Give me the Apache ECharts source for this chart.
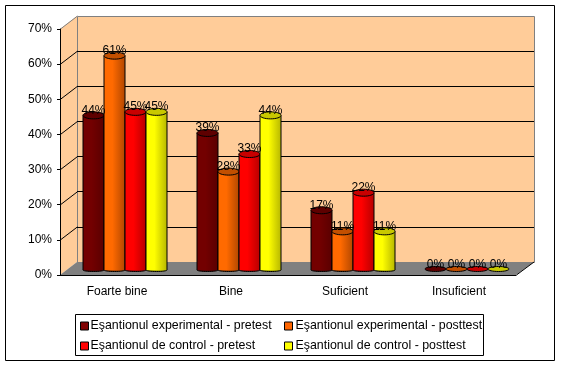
<!DOCTYPE html>
<html>
<head>
<meta charset="utf-8">
<style>html,body{margin:0;padding:0;background:#fff}#c{width:561px;height:366px}</style>
<script src="https://cdn.jsdelivr.net/npm/echarts@6/dist/echarts.min.js"></script>
</head>
<body>
<div id="c"></div>
<script>
const categories = ['Foarte bine', 'Bine', 'Suficient', 'Insuficient'];
const seriesNames = [
  'Eşantionul experimental - pretest',
  'Eşantionul experimental - posttest',
  'Eşantionul de control - pretest',
  'Eşantionul de control - posttest'
];
const expPre = [44, 39, 17, 0];
const expPost = [61, 28, 11, 0];
const ctrlPre = [45, 33, 22, 0];
const ctrlPost = [45, 44, 11, 0];
const yTicks = [0, 10, 20, 30, 40, 50, 60, 70];
const seriesValues = [expPre, expPost, ctrlPre, ctrlPost];
const baseColors = ['#800000', '#FF6600', '#FF0000', '#FFFF00'];
const brightColors = ['#730000', '#FF6A00', '#FF0000', '#FFFF00'];
const darkColors = ['#5A0000', '#B34700', '#B80000', '#B8B800'];
const capColors = ['#5E0000', '#C24F00', '#C80000', '#C8C800'];

const W = 456, H = 246, DX = 17, DY = 13;
const L = 60, B = 275, T = B - H;
const BAR_W = 21, RY = 3.5;

function frontGrid() { return { left: L, top: T, width: W, height: H }; }

function barItem(si) {
  return function (params, api) {
    const v = api.value(1);
    const p = api.coord([api.value(0), v]);
    const base = api.coord([api.value(0), 0]);
    const cx = p[0] + (si - 1.5) * BAR_W;
    const x0 = cx - BAR_W / 2, x1 = cx + BAR_W / 2;
    const line = { stroke: '#000', lineWidth: 1 };
    const grad = {
      type: 'linear', x: 0, y: 0, x2: 1, y2: 0,
      colorStops: [
        { offset: 0, color: brightColors[si] },
        { offset: 0.4, color: brightColors[si] },
        { offset: 1, color: darkColors[si] }
      ]
    };
    const children = [];
    if (v > 0) {
      children.push(
        { type: 'ellipse', shape: { cx: cx, cy: base[1], rx: BAR_W / 2, ry: 1.5 }, style: Object.assign({ fill: darkColors[si] }, line) },
        { type: 'rect', shape: { x: x0, y: p[1], width: BAR_W, height: base[1] - p[1] }, style: { fill: grad } },
        { type: 'line', shape: { x1: x0, y1: p[1], x2: x0, y2: base[1] }, style: line },
        { type: 'line', shape: { x1: x1, y1: p[1], x2: x1, y2: base[1] }, style: line }
      );
    }
    children.push(
      { type: 'ellipse', shape: { cx: cx, cy: p[1] - (v > 0 ? 0 : 1), rx: BAR_W / 2, ry: v > 0 ? RY : 2.5 }, style: Object.assign({ fill: capColors[si] }, line) },
      { type: 'text', z2: 100, style: { text: Math.round(v) + '%', x: cx, y: p[1] - 5, align: 'center', verticalAlign: 'middle', fill: '#000', font: '12px "Liberation Sans", Arial, sans-serif' } }
    );
    return { type: 'group', children: children };
  };
}

const font = { color: '#000', fontFamily: '"Liberation Sans", Arial, sans-serif', fontSize: 12 };
const legendFont = { color: '#000', fontFamily: '"Liberation Sans", Arial, sans-serif', fontSize: 12.4 };
const frameColor = '#808080';

const option = {
  animation: false,
  backgroundColor: '#fff',
  graphic: { elements: [
    { type: 'rect', z: -5, shape: { x: 5.5, y: 5.5, width: 549, height: 355 }, style: { fill: '#fff', stroke: '#000', lineWidth: 1 } },
    { type: 'polygon', z: -4, shape: { points: [[L, T], [L + DX, T - DY], [L + DX, B - DY], [L, B]] }, style: { fill: '#FFCC99' } },
    { type: 'rect', z: -4, shape: { x: L + DX + 0.5, y: T - DY + 0.5, width: W + 1, height: H }, style: { fill: '#FFCC99', stroke: frameColor, lineWidth: 1 } },
    { type: 'polygon', z: -3, shape: { points: [[L, B], [L + DX, B - DY], [L + DX + W + 1, B - DY], [L + W, B]] }, style: { fill: '#808080' } },
    { type: 'line', z: -2, shape: { x1: L + 0.5, y1: T, x2: L + DX + 0.5, y2: T - DY }, style: { stroke: frameColor, lineWidth: 1 } },
    { type: 'rect', z: -1, shape: { x: 75.5, y: 314.5, width: 408, height: 41 }, style: { fill: '#fff', stroke: '#000', lineWidth: 1 } }
  ] },
  legend: [
    { left: 80, top: 320, orient: 'vertical', padding: 0, itemGap: 8, itemWidth: 8, itemHeight: 8, icon: 'rect', data: [seriesNames[0], seriesNames[2]], textStyle: Object.assign({ padding: [0, 0, 0, -3] }, legendFont), itemStyle: { borderColor: '#000', borderWidth: 1 }, selectedMode: false },
    { left: 284, top: 320, orient: 'vertical', padding: 0, itemGap: 8, itemWidth: 8, itemHeight: 8, icon: 'rect', data: [seriesNames[1], seriesNames[3]], textStyle: Object.assign({ padding: [0, 0, 0, -2] }, legendFont), itemStyle: { borderColor: '#000', borderWidth: 1 }, selectedMode: false }
  ],
  grid: [
    frontGrid(),
    { left: L + DX, top: T - DY, width: W + 1, height: H },
    { left: L + 8, top: T - 5, width: W, height: H }
  ],
  xAxis: [
    { gridIndex: 0, type: 'category', data: categories, axisLine: { lineStyle: { color: '#000' } }, axisTick: { length: 3, lineStyle: { color: '#000' } }, axisLabel: Object.assign({ margin: 11 }, font) },
    { gridIndex: 1, type: 'category', data: categories, show: false },
    { gridIndex: 2, type: 'category', data: categories, show: false }
  ],
  yAxis: [
    { gridIndex: 0, type: 'value', min: 0, max: 70, interval: 10, axisLine: { show: true, lineStyle: { color: '#000' } }, axisTick: { show: true, length: 3, lineStyle: { color: '#000' } }, splitLine: { show: false }, axisLabel: Object.assign({ margin: 8, formatter: '{value}%' }, font) },
    { gridIndex: 1, type: 'value', min: 0, max: 70, interval: 10, axisLine: { show: false }, axisTick: { show: false }, axisLabel: { show: false }, splitLine: { show: true, showMinLine: false, showMaxLine: false, lineStyle: { color: '#000', width: 1 } } },
    { gridIndex: 2, type: 'value', min: 0, max: 70, interval: 10, show: false, splitLine: { show: false } }
  ],
  series: [
    {
      name: 'perspective', type: 'custom', xAxisIndex: 0, yAxisIndex: 0, silent: true, z: 1,
      data: yTicks.map(v => [0, v]),
      renderItem: function (params, api) {
        const y = api.coord([0, api.value(1)])[1];
        const x = params.coordSys.x;
        const r = x + params.coordSys.width;
        const kids = [];
        if (api.value(1) > 0 && api.value(1) < 70) {
          kids.push({ type: 'line', shape: { x1: x + 0.5, y1: y, x2: x + DX + 0.5, y2: y - DY }, style: { stroke: '#000', lineWidth: 1 } });
        }
        if (api.value(1) === 0) {
          kids.push({ type: 'line', shape: { x1: r + 0.5, y1: y, x2: r + DX + 1, y2: y - DY }, style: { stroke: '#000', lineWidth: 1 } });
        }
        return { type: 'group', children: kids };
      }
    }
  ].concat(seriesValues.map((vals, si) => ({
    name: seriesNames[si], type: 'custom', xAxisIndex: 2, yAxisIndex: 2, z: 3,
    itemStyle: { color: baseColors[si] },
    data: vals.map((v, i) => [i, v]),
    renderItem: barItem(si)
  })))
};
echarts.init(document.getElementById('c'), null, { renderer: 'canvas' }).setOption(option);
</script>
</body>
</html>
